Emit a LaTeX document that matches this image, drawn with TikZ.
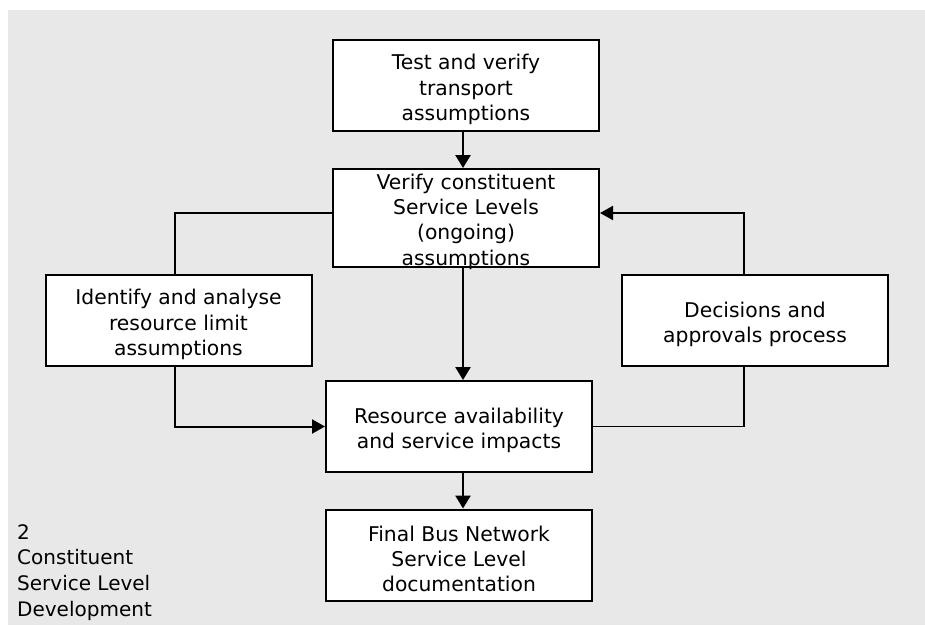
\documentclass[tikz,border=0pt]{standalone}
\usepackage{fontspec}
\setmainfont{DejaVu Sans}
\usetikzlibrary{arrows.meta}
\definecolor{panel}{RGB}{232,232,232}
\begin{document}
\begin{tikzpicture}[x=1pt,y=-1pt,
  stage/.style={draw=black, fill=white, line width=2pt, inner sep=0pt,
    minimum width=266pt, minimum height=91pt},
  words/.style={inner sep=0pt, align=center,
    font=\fontsize{20.3}{25.3}\selectfont},
  flow/.style={line width=2.6pt, -{Triangle[length=13pt,width=15pt]}},
  link/.style={line width=1.6pt},
  loopin/.style={line width=2pt, -{Triangle[length=13pt,width=14pt]}}]
  % page and grey panel
  \useasboundingbox (0,0) rectangle (925,625);
  \fill[panel] (8,10) rectangle (925,625);

  % guide coordinates for the connector runs
  \coordinate (mx) at (463,0);
  \coordinate (lx) at (175,0);
  \coordinate (rx) at (744,0);
  \coordinate (ly) at (0,213);

  % process boxes
  \node[stage] (test) at (466,85.5) {};
  \node[stage, minimum height=98pt] (verify) at (466,218) {};
  \node[stage] (ident) at (178.5,320.5) {};
  \node[stage] (dec) at (755,320.5) {};
  \node[stage] (res) at (459,426.5) {};
  \node[stage] (final) at (459,555) {};

  % box texts, set a little below each box centre
  \node[words] (testtxt) at ([yshift=-4pt]test.center) {Test and verify\\transport\\assumptions};
  \node[words] (verifytxt) at ([yshift=-3.5pt]verify.center) {Verify constituent\\Service Levels\\(ongoing)\\assumptions};
  \node[words] (identtxt) at ([yshift=-4pt]ident.center) {Identify and analyse\\resource limit\\assumptions};
  \node[words] (dectxt) at ([yshift=-4pt]dec.center) {Decisions and\\approvals process};
  \node[words] (restxt) at ([yshift=-4pt]res.center) {Resource availability\\and service impacts};
  \node[words] (finaltxt) at ([yshift=-4pt]final.center) {Final Bus Network\\Service Level\\documentation};

  % caption in the lower left corner
  \node[anchor=north west, inner sep=0pt, align=left,
    font=\fontsize{20}{25.7}\selectfont] (cap) at (17,524)
    {2\\Constituent\\Service Level\\Development};

  % main downward flow
  \draw[flow] (test.south -| mx) -- (verify.north -| mx);
  \draw[flow] (verify.south -| mx) -- (res.north -| mx);
  \draw[flow] (res.south -| mx) -- (final.north -| mx);

  % left loop: verify -> identify -> resource
  \draw[link] (verify.west |- ly) -| (ident.north -| lx);
  \draw[loopin] (ident.south -| lx) |- (res.west);

  % right loop: resource -> decisions -> verify
  \draw[link] (res.east) -| (dec.south -| rx);
  \draw[loopin] (dec.north -| rx) |- (verify.east |- ly);
\end{tikzpicture}
\end{document}
